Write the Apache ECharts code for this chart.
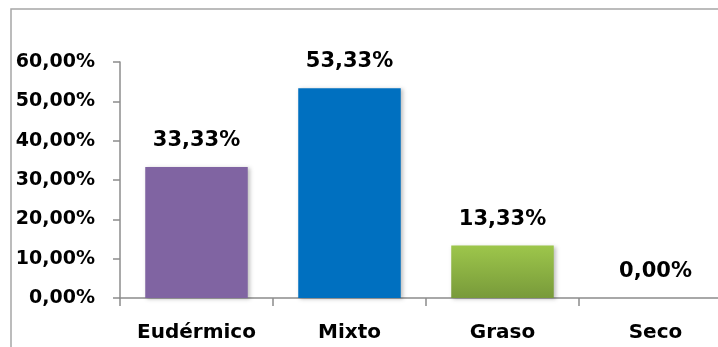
<!DOCTYPE html>
<html>
<head>
<meta charset="utf-8">
<script src="https://cdn.jsdelivr.net/npm/echarts@6/dist/echarts.min.js"></script>
<style>
  html, body { margin: 0; padding: 0; background: #fff; }
  #chart { width: 718px; height: 347px; }
</style>
</head>
<body>
<div id="chart"></div>
<script>
// Skin type distribution
const categories = ['Eudérmico', 'Mixto', 'Graso', 'Seco'];
const percentages = [33.33, 53.33, 13.33, 0.00];
const yTicks = [0, 10, 20, 30, 40, 50, 60];

const fillColors = [
  '#8064a2',
  '#0070c0',
  new echarts.graphic.LinearGradient(0, 0, 0, 1, [
    { offset: 0, color: '#9dc64b' },
    { offset: 1, color: '#789a3a' }
  ]),
  '#9bbb59'
];

const fmt = v => v.toFixed(2).replace('.', ',') + '%';
const FONT = 'DejaVu Sans';

const chart = echarts.init(document.getElementById('chart'), null, { renderer: 'canvas' });
chart.setOption({
  animation: false,
  backgroundColor: '#fff',
  graphic: [{
    type: 'rect',
    shape: { x: 11, y: 9, width: 760, height: 400 },
    style: { fill: 'none', stroke: '#a6a6a6', lineWidth: 1.5 },
    silent: true,
    z: -10
  }],
  grid: {
    left: 120, right: -14, top: 62, bottom: 49,
    containLabel: false, outerBoundsMode: 'none'
  },
  xAxis: {
    type: 'category',
    data: categories,
    axisLine: { lineStyle: { color: '#8c8c8c', width: 1.5 } },
    axisTick: { show: true, length: 8, lineStyle: { color: '#8c8c8c', width: 1.5 } },
    axisLabel: {
      interval: 0, margin: 25, color: '#000', fontFamily: FONT, fontWeight: 'bold', fontSize: 20
    }
  },
  yAxis: {
    type: 'value',
    min: yTicks[0],
    max: yTicks[yTicks.length - 1],
    interval: yTicks[1] - yTicks[0],
    splitLine: { show: false },
    axisLine: { show: true, lineStyle: { color: '#8c8c8c', width: 1.5 } },
    axisTick: { show: true, length: 7, lineStyle: { color: '#8c8c8c', width: 1.5 } },
    axisLabel: {
      margin: 25, color: '#000', fontFamily: FONT, fontWeight: 'bold', fontSize: 19,
      formatter: v => fmt(v)
    }
  },
  series: [{
    type: 'bar',
    barCategoryGap: '33%',
    data: percentages.map((v, i) => ({
      value: v,
      itemStyle: {
        color: fillColors[i],
        shadowColor: 'rgba(0,0,0,0.25)',
        shadowBlur: 4,
        shadowOffsetX: 2,
        shadowOffsetY: 1
      }
    })),
    label: {
      show: true,
      position: 'top',
      distance: 16,
      color: '#000',
      fontFamily: FONT,
      fontWeight: 'bold',
      fontSize: 21,
      formatter: p => fmt(p.value)
    }
  }]
});
</script>
</body>
</html>
